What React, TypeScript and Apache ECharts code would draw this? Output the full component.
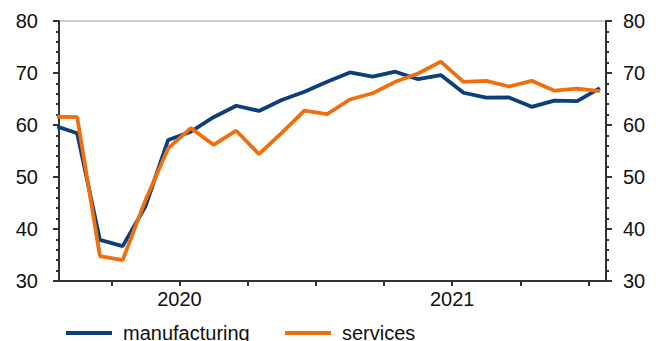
import React, { useEffect, useRef } from "react";
import * as echarts from "echarts";

const months = [
  "2020-01", "2020-02", "2020-03", "2020-04", "2020-05", "2020-06",
  "2020-07", "2020-08", "2020-09", "2020-10", "2020-11", "2020-12",
  "2021-01", "2021-02", "2021-03", "2021-04", "2021-05", "2021-06",
  "2021-07", "2021-08", "2021-09", "2021-10", "2021-11", "2021-12",
  "2022-01",
];

const manufacturing = [
  59.9, 58.4, 37.9, 36.7, 44.3, 57.1, 58.7, 61.5, 63.7, 62.7, 64.8, 66.4,
  68.3, 70.1, 69.3, 70.25, 68.8, 69.6, 66.2, 65.25, 65.3, 63.5, 64.7, 64.6,
  67.1,
];

const services = [
  61.6, 61.5, 34.8, 34.0, 45.5, 55.5, 59.4, 56.2, 58.9, 54.4, 58.5, 62.75,
  62.1, 64.9, 66.1, 68.3, 69.9, 72.2, 68.3, 68.5, 67.4, 68.5, 66.6, 67.0,
  66.5,
];

const yearLabels = ["2020", "2021"];
const yTicks = [30, 40, 50, 60, 70, 80];

const FONT = "'Liberation Sans', Arial, Helvetica, sans-serif";
const BLUE = "#0b3e7b";
const ORANGE = "#ef6f0c";
const AXIS = "#333333";
const FS = 20;

export default function App() {
  const ref = useRef<HTMLDivElement>(null);

  useEffect(() => {
    if (!ref.current) return;
    const chart = echarts.init(ref.current, undefined, { renderer: "svg" });

    // quarter boundaries (between Mar/Apr, Jun/Jul, ...)
    const quarterTicks: number[] = [];
    months.forEach((m, i) => {
      const mm = parseInt(m.slice(5), 10);
      if (i > 0 && (mm - 1) % 3 === 0) quarterTicks.push(i - 0.5);
    });
    // year label at the centre of each year
    const yearCenters = yearLabels.map((y) => {
      const idx = months.map((m, i) => (m.startsWith(y) ? i : -1)).filter((i) => i >= 0);
      return (idx[0] + idx[idx.length - 1]) / 2;
    });

    const yAxisBase = (pos: "left" | "right", margin: number) => ({
      type: "value" as const,
      position: pos,
      min: yTicks[0],
      max: yTicks[yTicks.length - 1],
      interval: 10,
      axisLine: { show: true, lineStyle: { color: AXIS, width: 2 } },
      axisTick: { show: true, inside: false, length: 6, lineStyle: { color: AXIS, width: 2 } },
      minorTick: { show: true, splitNumber: 5, length: 3, lineStyle: { color: AXIS, width: 2 } },
      axisLabel: { margin, color: "#111", fontSize: FS, fontFamily: FONT },
      splitLine: { show: false },
      minorSplitLine: { show: false },
    });

    const legendBase = {
      top: 323,
      padding: 0,
      icon: "rect",
      itemWidth: 46,
      itemHeight: 4,
      textStyle: { fontSize: FS, fontFamily: FONT, color: "#111", padding: [0, 0, 0, 6] },
    };

    chart.setOption({
      animation: false,
      grid: {
        left: 59,
        right: 50,
        top: 21,
        bottom: 60,
        show: true,
        borderColor: "#a0a0a0",
        borderWidth: 1,
        backgroundColor: "transparent",
      },
      legend: [
        { ...legendBase, data: ["manufacturing"], left: 66 },
        { ...legendBase, data: ["services"], left: 285 },
      ],
      xAxis: {
        type: "value",
        min: 0.2,
        max: 24.27,
        axisLine: { show: true, onZero: false, lineStyle: { color: AXIS, width: 2 } },
        axisTick: {
          show: true,
          customValues: quarterTicks,
          length: 5,
          lineStyle: { color: AXIS, width: 2 },
        },
        axisLabel: {
          customValues: yearCenters,
          formatter: (v: number) => {
            const k = yearCenters.findIndex((c) => Math.abs(c - v) < 1e-6);
            return k >= 0 ? yearLabels[k] : "";
          },
          margin: 8,
          color: "#111",
          fontSize: FS,
          fontFamily: FONT,
        },
        splitLine: { show: false },
      },
      yAxis: [yAxisBase("left", 21), yAxisBase("right", 17)],
      series: [
        {
          name: "manufacturing",
          type: "line",
          data: manufacturing.map((v, i) => [i, v]),
          showSymbol: false,
          symbol: "none",
          lineStyle: { color: BLUE, width: 3.8 },
          itemStyle: { color: BLUE },
          clip: true,
          z: 2,
        },
        {
          name: "services",
          type: "line",
          data: services.map((v, i) => [i, v]),
          showSymbol: false,
          symbol: "none",
          lineStyle: { color: ORANGE, width: 3.8 },
          itemStyle: { color: ORANGE },
          clip: true,
          z: 3,
        },
      ],
    });

    return () => chart.dispose();
  }, []);

  return <div ref={ref} style={{ width: 656, height: 341, position: "absolute", left: 0, top: 0 }} />;
}
